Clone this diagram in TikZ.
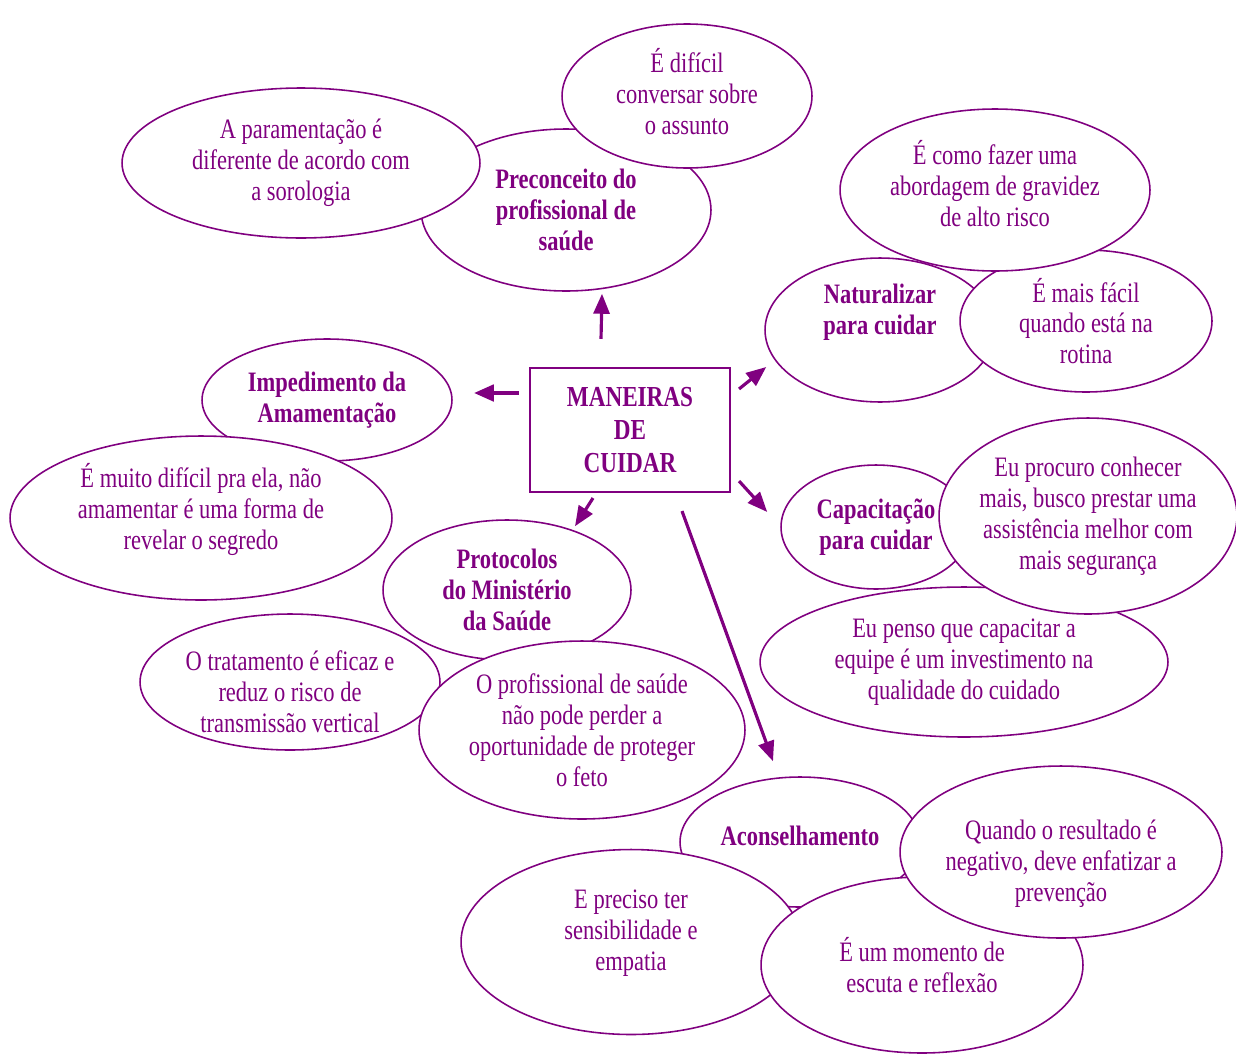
\documentclass[tikz,border=0pt]{standalone}
\usepackage{fontspec}
\setmainfont{Liberation Serif}[FakeStretch=0.8]
\usepackage{xcolor}
\usepackage{tikz}
\usetikzlibrary{arrows.meta,calc,shapes.geometric}
\definecolor{roxo}{RGB}{128,0,128}

\begin{document}
\begin{tikzpicture}[>={Triangle[length=0.4cm,width=0.32cm]}, x=0.02cm, y=0.02cm,
  balao/.style={ellipse, draw=roxo, fill=white, line width=0.9pt, inner xsep=-4mm, inner ysep=-2mm, align=center, text=roxo, font=\fontsize{16}{17.6}\selectfont},
  tema/.style={balao, font=\fontsize{16}{17.6}\selectfont\bfseries},
  seta/.style={->, draw=roxo, fill=roxo, line width=1.8pt}]
\useasboundingbox (0,0) rectangle (1236,-1055);
\node[tema, minimum width=5.8cm, minimum height=3.24cm] (preconceito) at (566,-210) {Preconceito do\\profissional de\\saúde};
\node[balao, minimum width=7.16cm, minimum height=3cm] (paramentacao) at (301,-163) {A paramentação é\\diferente de acordo com\\a sorologia};
\node[balao, minimum width=5cm, minimum height=2.88cm] (dificil) at (687,-96) {É difícil\\conversar sobre\\o assunto\\[-12pt]\mbox{}};
\node[tema, minimum width=4.6cm, minimum height=2.88cm] (naturalizar) at (880,-330) {Naturalizar\\para cuidar\\[6pt]\mbox{}};
\node[balao, minimum width=5.04cm, minimum height=2.84cm] (facil) at (1086,-321) {É mais fácil\\quando está na\\rotina};
\node[balao, minimum width=6.2cm, minimum height=3.24cm] (abordagem) at (995,-190) {É como fazer uma\\abordagem de gravidez\\de alto risco\\[-10pt]\mbox{}};
\node[draw=roxo, line width=1.2pt, minimum width=4cm, minimum height=2.48cm, align=center, text=roxo, font=\fontsize{16.5}{18.7}\selectfont\bfseries] (centro) at (630,-430) {MANEIRAS\\DE\\CUIDAR};
\node[tema, minimum width=5cm, minimum height=2.44cm] (impedimento) at (327,-400) {Impedimento da\\Amamentação};
\node[balao, minimum width=7.64cm, minimum height=3.28cm] (amamentar) at (201,-518) {É muito difícil pra ela, não\\amamentar é uma forma de\\revelar o segredo\\[-4pt]\mbox{}};
\node[tema, minimum width=4.96cm, minimum height=2.8cm] (protocolos) at (507,-590) {Protocolos\\do Ministério\\da Saúde};
\node[balao, minimum width=6cm, minimum height=2.72cm] (tratamento) at (290,-682) {\mbox{}\\[5pt]O tratamento é eficaz e\\reduz o risco de\\transmissão vertical};
\node[balao, minimum width=6.52cm, minimum height=3.56cm] (feto) at (582,-730) {O profissional de saúde\\não pode perder a\\oportunidade de proteger\\o feto};
\node[tema, minimum width=3.8cm, minimum height=2.48cm] (capacitacao) at (876,-527) {Capacitação\\para cuidar};
\node[balao, minimum width=8.16cm, minimum height=3cm] (investimento) at (964,-662) {Eu penso que capacitar a\\equipe é um investimento na\\qualidade do cuidado};
\node[balao, minimum width=5.96cm, minimum height=3.92cm] (conhecer) at (1088,-516) {Eu procuro conhecer\\mais, busco prestar uma\\assistência melhor com\\mais segurança};
\node[tema, minimum width=4.8cm, minimum height=2.6cm] (aconselhamento) at (800,-842) {Aconselhamento\\[-11pt]\mbox{}};
\node[balao, minimum width=6.8cm, minimum height=3.7cm] (empatia) at (631,-942) {E preciso ter\\sensibilidade e\\empatia\\[-4pt]\mbox{}};
\node[balao, minimum width=6.44cm, minimum height=3.52cm] (escuta) at (922,-965) {É um momento de\\escuta e reflexão};
\node[balao, minimum width=6.44cm, minimum height=3.44cm] (negativo) at (1061,-852) {\mbox{}\\[7pt]Quando o resultado é\\negativo, deve enfatizar a\\prevenção};
\draw[seta] ($(centro.north)+(-29,28)$) -- ($(preconceito.south)+(36,-2)$);
\draw[seta, line width=2.6pt] ($(centro.west)+(-10,37)$) -- ($(impedimento.east)+(21,7)$);
\draw[seta] ($(centro.north east)+(8,-22)$) -- ($(naturalizar.west)+(2,-37)$);
\draw[seta] ($(centro.south east)+(8,12)$) -- ($(capacitacao.west)+(-13,15)$);
\draw[seta] ($(centro.south)+(-37,-5)$) -- ($(protocolos.north)+(68,-7)$);
\draw[seta] ($(centro.south)+(52,-18)$) -- ($(aconselhamento.north)+(-27,15)$);
\end{tikzpicture}
\end{document}
